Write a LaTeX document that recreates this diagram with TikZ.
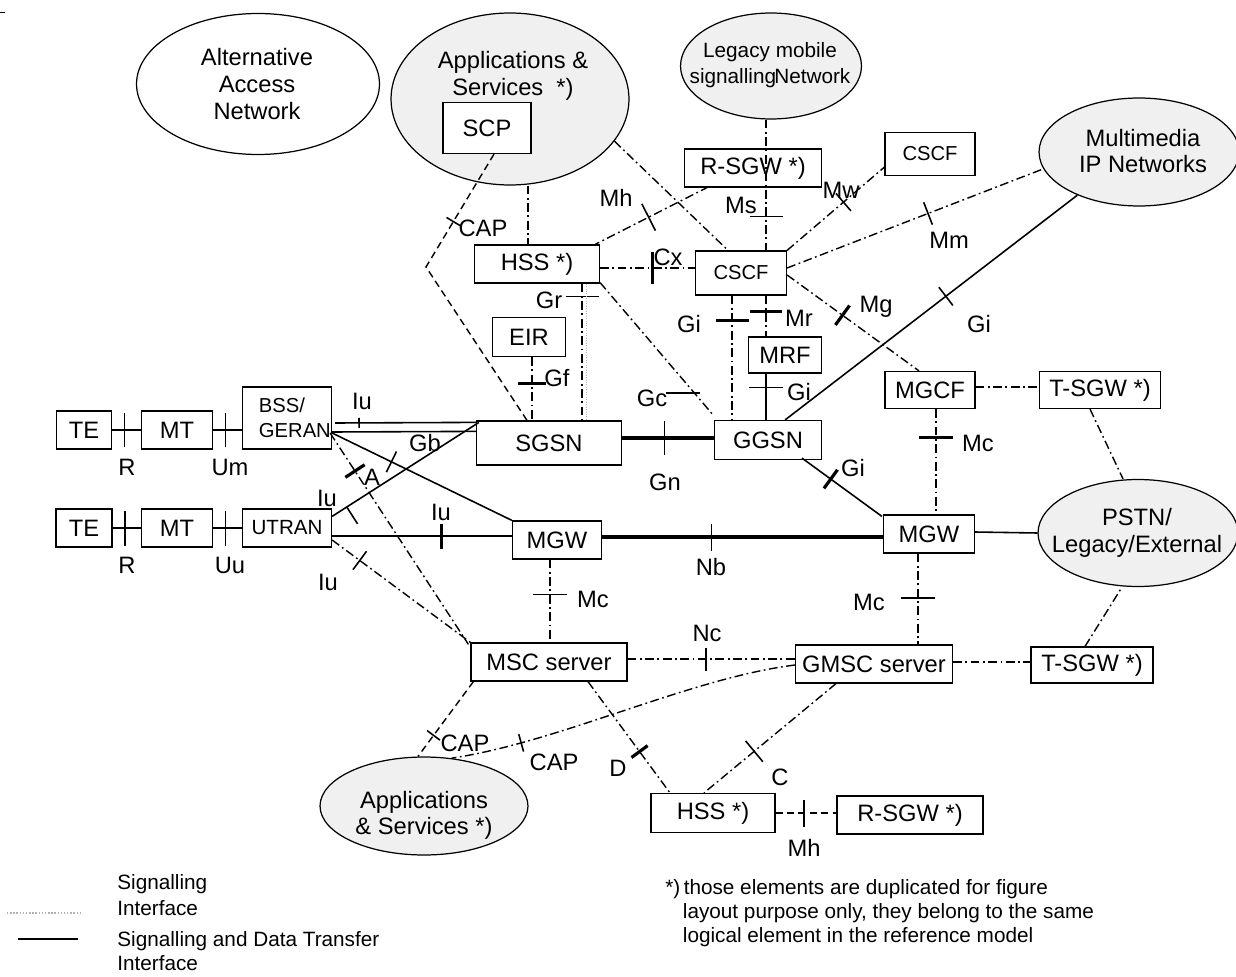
\documentclass[tikz,border=0pt]{standalone}
\usepackage{fontspec}
\setmainfont{Liberation Sans}
\usepackage{tikz}
\usetikzlibrary{
calc,
decorations.markings,
shapes,
}

\begin{document}
\begin{tikzpicture}[x=0.02cm, y=-0.02cm,
	nbox/.style={draw, line width=0.7pt, fill=white, inner sep=0, font=\fontsize{13.5}{16}\selectfont},
	cloud/.style={draw, ellipse, line width=0.7pt, fill=gray!12, inner sep=0},
	lbl/.style={inner sep=0, font=\fontsize{13.5}{16}\selectfont},
	data/.style={line width=0.9pt},
	bulk/.style={line width=2pt},
	sig/.style={line width=0.8pt, dash pattern=on 5pt off 2pt on 1pt off 2pt},
	dsh/.style={line width=0.8pt, dash pattern=on 4pt off 2.5pt},
	itick/.style 2 args={postaction={decorate, decoration={markings, mark=at position #1 with {\draw[solid, line width=0.9pt] (0,-#2) -- (0,#2);}}}},
	itickb/.style 2 args={postaction={decorate, decoration={markings, mark=at position #1 with {\draw[solid, line width=1.8pt] (0,-#2) -- (0,#2);}}}},
	itickr/.style 2 args={postaction={decorate, decoration={markings, mark=at position #1 with {\draw[solid, line width=0.9pt] (0,0) -- (0,-#2);}}}},
	]
	\useasboundingbox (0,0) rectangle (1236,976);

	\node[cloud, fill=white, minimum width=4.86cm, minimum height=2.82cm] (Alt) at (258,84) {};
	\node[cloud, minimum width=4.76cm, minimum height=3.44cm] (AppA) at (510,99) {};
	\node[cloud, minimum width=3.62cm, minimum height=2.12cm] (Legacy) at (771,66) {};
	\node[cloud, minimum width=4.00cm, minimum height=2.16cm] (MM) at (1139,152) {};
	\node[cloud, minimum width=4.00cm, minimum height=2.14cm] (PSTN) at (1138,533) {};
	\node[cloud, minimum width=4.16cm, minimum height=1.96cm] (AppB) at (424,806) {};

	\node[lbl, align=center, font=\fontsize{13.5}{15.3}\selectfont] (AltT) at (257,84) {Alternative\\Access\\Network};
	\node[lbl, align=center, font=\fontsize{13.5}{15.3}\selectfont] (AppAT) at (513,76) {Applications \&\\Services\ \ *)};
	\node[lbl, align=center, font=\fontsize{11.8}{14.7}\selectfont] (LegacyT) at (770,65) {Legacy mobile\\signalling\hspace{-1pt}Network};
	\node[lbl, align=center, font=\fontsize{13.5}{15.3}\selectfont] (MMT) at (1143,151) {Multimedia\\IP Networks};
	\node[lbl, align=center, font=\fontsize{13.5}{15.3}\selectfont] (PSTNT) at (1137,533) {PSTN/\\Legacy/External};
	\node[lbl, align=center, font=\fontsize{13.5}{14.7}\selectfont] (AppBT) at (424,815) {Applications\\\& Services *)};

	\node[nbox, minimum width=1.10cm, minimum height=0.76cm] (TEa) at (84,430) {TE};
	\node[nbox, minimum width=1.42cm, minimum height=0.76cm] (MTa) at (177,430) {MT};
	\node[nbox, minimum width=1.78cm, minimum height=1.24cm, align=left, font=\fontsize{11.5}{14}\selectfont] (GERAN) at (287,418) {\hspace*{9pt}BSS/\\\hspace*{9pt}GERAN};
	\node[nbox, minimum width=1.12cm, minimum height=0.76cm] (TEb) at (84,528) {TE};
	\node[nbox, minimum width=1.42cm, minimum height=0.76cm] (MTb) at (177,528) {MT};
	\node[nbox, minimum width=1.78cm, minimum height=0.76cm, font=\fontsize{11.7}{14}\selectfont] (UTRAN) at (287,528) {UTRAN};

	\node[nbox, minimum width=1.76cm, minimum height=1.02cm] (SCP) at (487,128) {SCP};
	\node[nbox, minimum width=2.50cm, minimum height=0.76cm] (HSSa) at (537,264) {HSS *)};
	\node[nbox, minimum width=2.74cm, minimum height=0.76cm] (RSGWa) at (753,168) {R-SGW *)};
	\node[nbox, minimum width=1.82cm, minimum height=0.88cm, font=\fontsize{11.5}{14}\selectfont] (CSCF) at (741,273) {CSCF};
	\node[nbox, minimum width=1.80cm, minimum height=0.86cm, font=\fontsize{11.5}{14}\selectfont] (CSCFb) at (930,154) {CSCF};
	\node[nbox, minimum width=1.46cm, minimum height=0.78cm] (EIR) at (529,337) {EIR};
	\node[nbox, minimum width=1.46cm, minimum height=0.72cm] (MRF) at (785,355) {MRF};
	\node[nbox, minimum width=1.80cm, minimum height=0.74cm] (MGCF) at (930,390) {MGCF};
	\node[nbox, minimum width=2.42cm, minimum height=0.74cm] (TSGWa) at (1100,390) {T-SGW *)};

	\node[nbox, minimum width=2.90cm, minimum height=0.88cm] (SGSN) at (549,443) {SGSN};
	\node[nbox, minimum width=2.14cm, minimum height=0.78cm] (GGSN) at (768,440) {GGSN};
	\node[nbox, minimum width=1.78cm, minimum height=0.76cm] (MGWa) at (557,540) {MGW};
	\node[nbox, minimum width=1.82cm, minimum height=0.76cm] (MGWb) at (929,534) {MGW};
	\node[nbox, minimum width=3.12cm, minimum height=0.76cm] (MSC) at (549,662) {MSC server};
	\node[nbox, minimum width=3.14cm, minimum height=0.76cm] (GMSC) at (874,664) {GMSC server};
	\node[nbox, minimum width=2.44cm, minimum height=0.72cm] (TSGWb) at (1092,665) {T-SGW *)};
	\node[nbox, minimum width=2.48cm, minimum height=0.78cm] (HSSb) at (713,813) {HSS *)};
	\node[nbox, minimum width=2.92cm, minimum height=0.76cm] (RSGWb) at (910,815) {R-SGW *)};

	\coordinate (CAPbend) at (426,267);

	\draw[data, itick={0.43}{0.35cm}] (TEa) -- (MTa);
	\draw[data, itick={0.43}{0.35cm}] (MTa.east) -- (MTa.east -| GERAN.west);
	\draw[data, itick={0.43}{0.35cm}] (TEb) -- (MTb);
	\draw[data, itick={0.43}{0.35cm}] (MTb.east) -- (MTb.east -| UTRAN.west);
	\draw[data, itick={0.17}{0.1cm}] ($(GERAN.east)+(3,5)$) -- ($(SGSN.north west)+(0,2)$);
	\draw[data] ($(GERAN.east)+(0,14)$) -- ($(SGSN.north west)+(0,11)$);
	\draw[data, itickr={0.1}{0.4cm}] ($(UTRAN.north east)+(0,8)$) -- ($(SGSN.north west)+(3,2)$);
	\draw[data, itick={0.33}{0.23cm}] ($(GERAN.east)+(0,15)$) -- (MGWa.north west);
	\draw[sig, itickb={0.18}{0.23cm}] ($(GERAN.east)+(-2,15)$) -- ($(MSC.north west)+(-2,2)$);
	\draw[data, itickb={0.61}{0.25cm}] ($(UTRAN.east)+(0,8)$) -- ($(MGWa.west)+(0,-4)$);
	\draw[sig, itick={0.2}{0.23cm}] ($(UTRAN.east)+(0,12)$) -- (MSC.north west);

	\draw[bulk, itick={0.46}{0.34cm}] ($(SGSN.east)+(0,-5)$) -- ($(GGSN.west)+(0,-2)$);
	\draw[bulk, itick={0.39}{0.27cm}] ($(MGWa.east)+(0,-3)$) -- ($(MGWb.west)+(0,3)$);
	\draw[sig, itick={0.42}{0.34cm}] ($(MGWa.south)+(-7,0)$) -- ($(MSC.north)+(1,0)$);
	\draw[sig, itick={0.47}{0.23cm}] ($(MSC.east)+(0,-3)$) -- ($(GMSC.west)+(0,-5)$);
	\draw[data, itickb={0.36}{0.23cm}] ($(GGSN.south)+(34,-2)$) -- ($(MGWb.north west)+(-1,2)$);
	\draw[sig, itickb={0.27}{0.34cm}] ($(MGCF.south)+(6,0)$) -- ($(MGWb.north)+(7,0)$);
	\draw[data] ($(MGWb.east)+(0,-2)$) -- (PSTN.west);
	\draw[sig, itick={0.49}{0.34cm}] ($(MGWb.south)+(-11,0)$) -- ($(GMSC.north)+(44,0)$);
	\draw[sig] ($(GMSC.east)+(0,-2)$) -- ($(TSGWb.west)+(0,-3)$);
	\draw[sig] ($(TSGWb.north)+(-7,0)$) -- ($(PSTN.south)+(-16,0)$);
	\draw[sig] ($(TSGWa.south)+(-10,0)$) -- ($(PSTN.north)+(-15,0)$);
	\draw[sig] ($(MGCF.east)+(0,-3)$) -- ($(TSGWa.west)+(0,-3)$);

	\draw[sig, itickb={0.42}{0.24cm}] ($(CSCF.east)+(0,2)$) -- ($(MGCF.north)+(-11,0)$);
	\draw[data, itick={0.55}{0.23cm}] ($(GGSN.north east)+(-37,0)$) -- (MM.215);
	\draw[sig, itick={0.55}{0.24cm}] ($(CSCF.east)+(0,-5)$) -- (MM.190);
	\draw[sig, itick={0.58}{0.23cm}] (CSCF.north east) -- ($(CSCFb.south west)+(0,-9)$);
	\draw[sig, itick={0.74}{0.33cm}] ($(Legacy.south)+(-5,0)$) -- ($(CSCF.north)+(25,0)$);
	\draw[sig, itick={0.53}{0.3cm}] ($(RSGWa.south west)+(25,-1)$) -- ($(HSSa.north east)+(-5,0)$);
	\draw[sig] ($(AppA.south)+(18,0)$) -- ($(HSSa.north)+(-9,0)$);
	\draw[sig] (AppA.-22) -- ($(CSCF.north)+(-13,0)$);
	\draw[dsh, itick={0.25}{0.16cm}] ($(SCP.south)+(7,0)$) -- (CAPbend) -- ($(SGSN.north)+(-22,0)$);
	\draw[sig, itickb={0.55}{0.33cm}] ($(HSSa.east)+(0,4)$) -- ($(CSCF.west)+(0,-5)$);
	\draw[sig, itick={0.094}{0.33cm}] ($(HSSa.south)+(45,0)$) -- ($(SGSN.north)+(33,0)$);
	\draw[gray!60, densely dotted] ($(HSSa.south)+(49,0)$) -- ($(SGSN.north)+(37,0)$);
	\draw[sig, itickb={0.42}{0.28cm}] ($(EIR.south)+(3,0)$) -- ($(SGSN.north)+(-17,0)$);
	\draw[sig] ($(HSSa.south east)+(0,-1)$) -- coordinate[pos=0.83] (GcT) ($(GGSN.north west)+(0,-4)$);
	\draw[line width=0.9pt] ($(GcT)+(-29,0)$) -- ($(GcT)+(5,0)$);
	\draw[sig, itickb={0.2}{0.33cm}] ($(CSCF.south)+(-9,0)$) -- ($(GGSN.north)+(-36,0)$);
	\draw[sig, itickb={0.38}{0.32cm}] ($(CSCF.south)+(25,0)$) -- ($(MRF.north)+(-19,0)$);
	\draw[data, itick={0.3}{0.34cm}] ($(MRF.south)+(-19,0)$) -- ($(GGSN.north)+(-2,0)$);

	\draw[dsh, itick={0.72}{0.16cm}] ($(MSC.south west)+(3,0)$) -- ($(AppB.north)+(-6,0)$);
	\draw[sig, itick={0.8}{0.18cm}] ($(GMSC.west)+(0,1)$) .. controls (690,678) and (560,742) .. (AppB.60);
	\draw[sig, itickb={0.63}{0.2cm}] ($(MSC.south)+(39,0)$) -- ($(HSSb.north)+(-43,0)$);
	\draw[sig, itick={0.62}{0.27cm}] ($(GMSC.south)+(-38,0)$) -- ($(HSSb.north)+(-9,0)$);
	\draw[dsh, itick={0.47}{0.27cm}] (HSSb.east) -- (HSSb.east -| RSGWb.west);

	\node[lbl] (IuA) at (362,401) {Iu};
	\node[lbl] (IuB) at (327,498) {Iu};
	\node[lbl] (IuC) at (441,512) {Iu};
	\node[lbl] (IuD) at (328,582) {Iu};
	\node[lbl] (Gb) at (425,443) {Gb};
	\node[lbl] (A) at (372,477) {A};
	\node[lbl] (Ra) at (127,467) {R};
	\node[lbl] (Um) at (230,467) {Um};
	\node[lbl] (Rb) at (127,565) {R};
	\node[lbl] (Uu) at (230,565) {Uu};
	\node[lbl] (Gn) at (665,482) {Gn};
	\node[lbl] (Nb) at (711,567) {Nb};
	\node[lbl] (McA) at (593,599) {Mc};
	\node[lbl] (Nc) at (707,633) {Nc};
	\node[lbl] (GiA) at (853,468) {Gi};
	\node[lbl] (McB) at (978,443) {Mc};
	\node[lbl] (McC) at (869,602) {Mc};
	\node[lbl] (Mg) at (876,307) {Mg};
	\node[lbl] (GiB) at (979,324) {Gi};
	\node[lbl] (Mm) at (949,240) {Mm};
	\node[lbl] (Mw) at (841,190) {Mw};
	\node[lbl] (Ms) at (741,205) {Ms};
	\node[lbl] (MhA) at (616,198) {Mh};
	\node[lbl] (CapA) at (483,228) {CAP};
	\node[lbl] (Cx) at (668,257) {Cx};
	\node[lbl] (Gr) at (549,300) {Gr};
	\node[lbl] (Gf) at (557,378) {Gf};
	\node[lbl] (Gc) at (652,398) {Gc};
	\node[lbl] (GiC) at (689,324) {Gi};
	\node[lbl] (Mr) at (799,318) {Mr};
	\node[lbl] (GiD) at (799,392) {Gi};
	\node[lbl] (CapB) at (465,743) {CAP};
	\node[lbl] (CapC) at (554,762) {CAP};
	\node[lbl] (D) at (618,768) {D};
	\node[lbl] (C) at (780,777) {C};
	\node[lbl] (MhB) at (804,848) {Mh};

	\coordinate (Corner) at (0,12);
	\draw (Corner) -- ++(5,0);
	\coordinate (LegSa) at (7,913);
	\coordinate (LegSb) at (82,913);
	\coordinate (LegDa) at (18,939);
	\coordinate (LegDb) at (78,939);
	\draw[gray!60, densely dotted, line width=0.8pt] (LegSa) -- (LegSb);
	\draw[line width=1.6pt] (LegDa) -- (LegDb);
	\node[lbl, anchor=west, align=left, font=\fontsize{11.8}{14.7}\selectfont] (LegS) at (117,895) {Signalling\\Interface};
	\node[lbl, anchor=west, align=left, font=\fontsize{11.8}{13.6}\selectfont] (LegD) at (117,951) {Signalling and Data Transfer\\Interface};
	\node[lbl, anchor=west, align=left, font=\fontsize{11.8}{13.6}\selectfont] (Note) at (665,913) {*)\,those elements are duplicated for figure\\\hspace*{10pt}layout purpose only, they belong to the same\\\hspace*{10pt}logical element in the reference model};
\end{tikzpicture}
\end{document}
